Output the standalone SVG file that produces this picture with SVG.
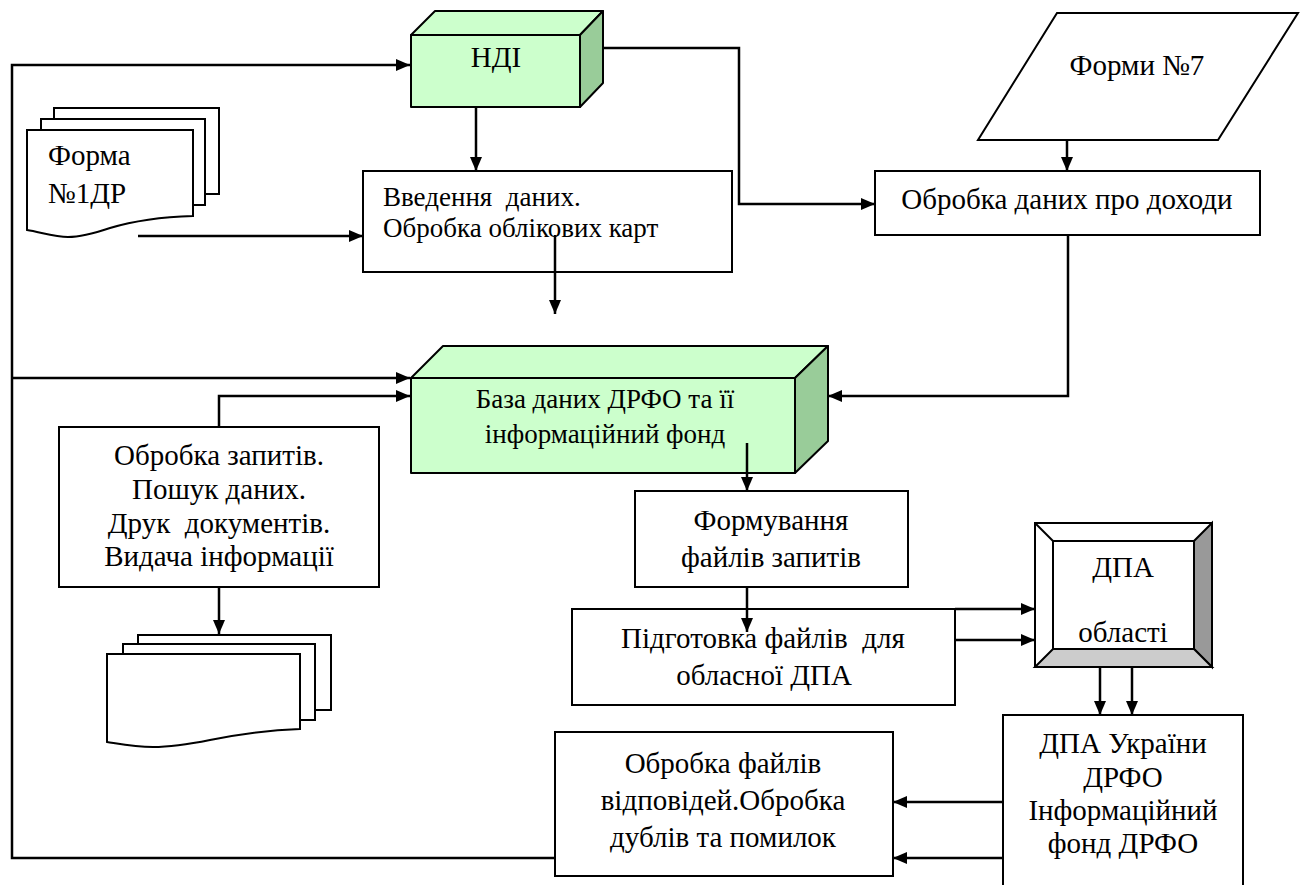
<svg xmlns="http://www.w3.org/2000/svg" width="1303" height="885" viewBox="0 0 1303 885">
<defs>
<marker id="arr" viewBox="0 0 14 12" refX="14" refY="6" markerWidth="14" markerHeight="12" markerUnits="userSpaceOnUse" orient="auto">
<path d="M0,0 L14,6 L0,12 Z" fill="#000"/>
</marker>
<style>
.sh{fill:#fff;stroke:#000;stroke-width:2}
.g{fill:#CCFFCC;stroke:#000;stroke-width:2;stroke-linejoin:round}
.gd{fill:#99CC99;stroke:#000;stroke-width:2;stroke-linejoin:round}
.c{fill:none;stroke:#000;stroke-width:2.5;marker-end:url(#arr)}
text{font-family:"Liberation Serif","Times New Roman","DejaVu Serif",serif;font-size:29px;fill:#000;white-space:pre}
.s{font-size:27px}
.m{text-anchor:middle}
</style>
</defs>
<rect width="1303" height="885" fill="#fff"/>

<g id="ndi">
<rect class="g" x="411" y="35" width="169" height="72"/>
<polygon class="g" points="411,35 435,11 603,11 580,35"/>
<polygon class="gd" points="580,35 603,11 603,83 580,107"/>
<text class="m" x="496" y="67">НДІ</text>
</g>

<g id="forma1dr">
<rect class="sh" x="54" y="108" width="165" height="86"/>
<rect class="sh" x="41" y="119" width="164" height="86"/>
<path class="sh" d="M27,130 H193 V216 C160,217 130,222 110,228 C95,233 82,237 68,237 C55,237 40,232 27,230 Z"/>
<text x="48" y="165">Форма</text>
<text x="48" y="203">№1ДР</text>
</g>

<g id="vvedennia">
<rect class="sh" x="363" y="171" width="369" height="101"/>
<text class="s" x="383" y="206">Введення  даних.</text>
<text class="s" x="383" y="237">Обробка облікових карт</text>
</g>

<g id="formy7">
<polygon class="sh" points="1057,13 1298,13 1218,140 978,140"/>
<text class="m" x="1137" y="75">Форми №7</text>
</g>

<g id="obrobka-dokhody">
<rect class="sh" x="875" y="171" width="385" height="64"/>
<text class="m" x="1067" y="209">Обробка даних про доходи</text>
</g>

<g id="baza">
<rect class="g" x="411" y="378" width="384" height="95"/>
<polygon class="g" points="411,378 443,346 828,346 795,378"/>
<polygon class="gd" points="795,378 828,346 828,441 795,473"/>
<text class="s m" x="605" y="408">База даних ДРФО та її</text>
<text class="s m" x="605" y="443">інформаційний фонд</text>
</g>

<g id="obrobka-zapytiv">
<rect class="sh" x="59" y="427" width="320" height="160"/>
<text class="m" x="219" y="465">Обробка запитів.</text>
<text class="m" x="219" y="499">Пошук даних.</text>
<text class="m" x="219" y="533">Друк  документів.</text>
<text class="m" x="219" y="566">Видача інформації</text>
</g>

<g id="docs-out">
<rect class="sh" x="138" y="635" width="193" height="75"/>
<rect class="sh" x="123" y="644" width="192" height="76"/>
<path class="sh" d="M107,654 H300 V729 C265,730 235,735 210,740 C190,744 170,747 153,747 C135,747 120,744 107,742 Z"/>
</g>

<g id="formuvannia">
<rect class="sh" x="635" y="491" width="273" height="96"/>
<text class="m" x="771" y="530">Формування</text>
<text class="m" x="771" y="567">файлів запитів</text>
</g>

<g id="pidgotovka">
<rect class="sh" x="572" y="609" width="383" height="96"/>
<text class="m" x="763" y="648">Підготовка файлів  для</text>
<text class="m" x="764" y="685">обласної ДПА</text>
</g>

<g id="dpa-oblasti">
<rect x="1035" y="523" width="177" height="144" fill="#fff" stroke="#000" stroke-width="2"/>
<polygon points="1194,541 1212,523 1212,667 1194,649" fill="#999999" stroke="#000" stroke-width="2"/>
<polygon points="1035,667 1053,649 1194,649 1212,667" fill="#CCCCCC" stroke="#000" stroke-width="2"/>
<line x1="1035" y1="523" x2="1053" y2="541" stroke="#000" stroke-width="2"/>
<rect x="1053" y="541" width="141" height="108" fill="#fff" stroke="#000" stroke-width="2"/>
<text class="m" x="1123" y="577">ДПА</text>
<text class="m" x="1123" y="642">області</text>
</g>

<g id="dpa-ukrainy">
<rect class="sh" x="1003" y="715" width="240" height="180"/>
<text class="m" x="1123" y="753">ДПА України</text>
<text class="m" x="1123" y="787">ДРФО</text>
<text class="m" x="1123" y="820">Інформаційний</text>
<text class="m" x="1123" y="853">фонд ДРФО</text>
</g>

<g id="obrobka-failiv">
<rect class="sh" x="555" y="732" width="338" height="144"/>
<text class="m" x="723" y="773">Обробка файлів</text>
<text class="m" x="723" y="810">відповідей.Обробка</text>
<text class="m" x="723" y="847">дублів та помилок</text>
</g>

<g id="connectors">
<path class="c" d="M555,858 H12 V65 H410"/>
<path class="c" d="M12,378 H410"/>
<path class="c" d="M219,427 V396 H410"/>
<path class="c" d="M476,107 V171"/>
<path class="c" d="M603,48 H739 V204 H875"/>
<path class="c" d="M1067,140 V171"/>
<path class="c" d="M1068,235 V396 H828"/>
<path class="c" d="M138,236 H363"/>
<path class="c" d="M555,235 V314"/>
<path class="c" d="M747,443 V491"/>
<path class="c" d="M747,587 V632"/>
<path class="c" d="M955,609 H1035"/>
<path class="c" d="M955,640 H1035"/>
<path class="c" d="M1100,667 V715"/>
<path class="c" d="M1132,667 V715"/>
<path class="c" d="M1003,802 H893"/>
<path class="c" d="M1003,858 H893"/>
<path class="c" d="M219,587 V634"/>
</g>
</svg>
